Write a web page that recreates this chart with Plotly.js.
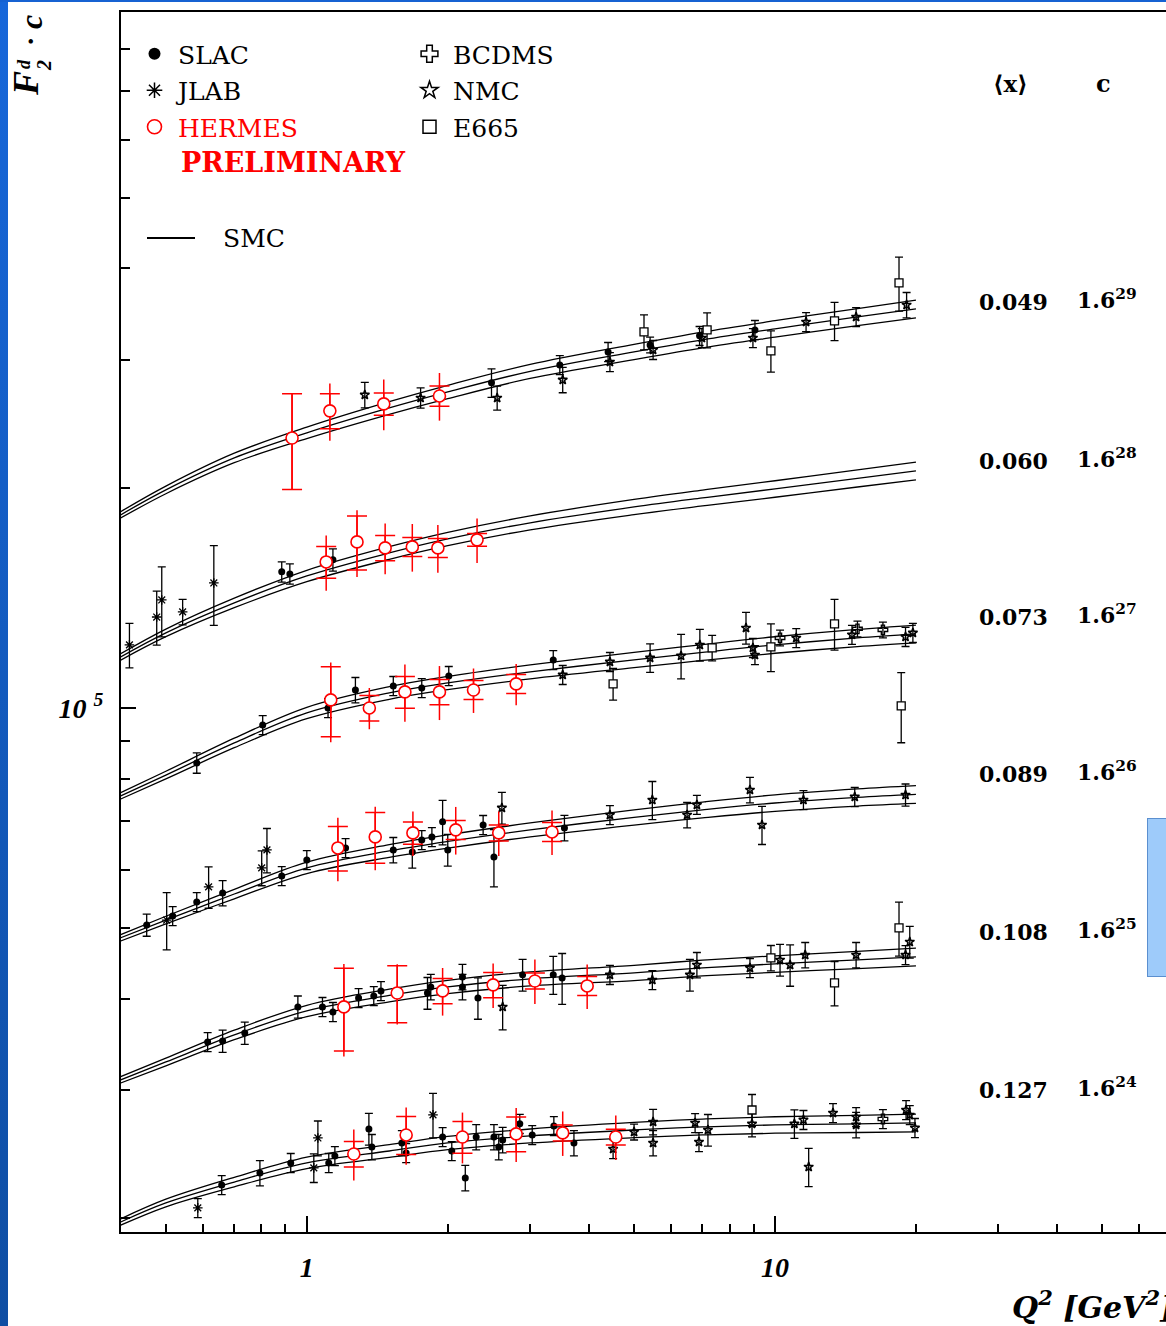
<!DOCTYPE html>
<html><head><meta charset="utf-8">
<script src="https://cdn.plot.ly/plotly-3.0.1.min.js"></script>
<style>
html,body{margin:0;padding:0;background:#fff;overflow:hidden;width:1166px;height:1326px;}
#chart{position:absolute;left:0;top:0;width:1166px;height:1326px;}
#leftband{position:absolute;left:0;top:0;width:8px;height:1326px;background:linear-gradient(#1767da,#0f4ea3);}
#topband{position:absolute;left:0;top:0;width:1166px;height:2px;background:#1662d2;}
#sidebox{position:absolute;left:1147px;top:818px;width:30px;height:157px;background:#9ecbfa;border:1px solid #5b8fcf;}
</style></head>
<body><div id="chart"></div><div id="leftband"></div><div id="topband"></div><div id="sidebox"></div>
<script>
// ---- bins ----
const binX = ['0.049','0.060','0.073','0.089','0.108','0.127'];
const binPower = [29, 28, 27, 26, 25, 24];
const cBase = 1.6;

// ---- SMC parametrisation (central curve per bin) ----
const smcQ2 = [0.4,0.5,0.7,1,1.5,2,3,5,7,10,15,20];
const smcBin0 = [.2213,.2395,.2649,.2867,.3101,.3262,.3481,.3701,.3844,.3980,.4132,.4239];
const smcBin1 = [.2262,.2441,.2683,.2921,.3141,.3283,.3454,.3631,.3736,.3844,.3974,.4068];
const smcBin2 = [.2335,.2494,.2760,.3034,.3232,.3335,.3454,.3586,.3672,.3760,.3844,.3893];
const smcBin3 = [.2388,.2526,.2742,.2978,.3141,.3237,.3357,.3492,.3575,.3654,.3719,.3754];
const smcBin4 = [.2441,.2583,.2813,.3034,.3186,.3273,.3357,.3421,.3475,.3519,.3564,.3598];
const smcBin5 = [.2494,.2649,.2830,.3006,.3121,.3201,.3273,.3335,.3367,.3389,.3400,.3410];
const smcBandPct = [1.0,1.2,1.5,1.8,2.0,2.1,2.2,2.4,2.5,2.6,2.7,2.8];

// ---- SLAC ----
const slacBin = [0,0,0,0,0,0, 1,1,1, 2,2,2,2,2,2,2,2,
  3,3,3,3,3,3,3,3,3,3,3,3,3,3,3,3,
  4,4,4,4,4,4,4,4,4,4,4,4,4,4,4,4,4,
  5,5,5,5,5,5,5,5,5,5,5,5,5,5,5,5,5,5,5,5];
const slacQ2 = [2.48,3.47,4.40,5.41,6.9,9.06, 0.884,0.92,1.137, 0.582,0.805,1.11,1.27,1.53,1.76,2.01,3.36,
  0.455,0.517,0.582,0.661,0.884,1.0,1.21,1.53,1.68,1.76,1.85,1.95,2.0,2.38,2.51,3.55,
  0.614,0.661,0.737,0.957,1.08,1.137,1.29,1.39,1.44,1.81,1.84,2.15,2.15,2.32,2.89,3.36,3.51,
  0.658,0.794,0.924,1.114,1.148,1.357,1.377,1.596,1.63,1.95,2.04,2.18,2.30,2.51,2.57,2.62,2.85,3.03,3.37,3.72];
const slacF2 = [.3357,.3552,.3701,.3783,.3893,.3967, .2959,.2940,.3073, .2591,.2921,.3082,.3262,.3304,.3283,.3410,.3586,
  .2487,.2558,.2674,.2751,.2903,.3053,.3171,.3151,.3131,.3252,.3283,.3443,.3151,.3410,.3082,.3378,
  .2751,.2759,.2830,.3073,.3073,.3025,.3161,.3181,.3232,.3211,.3273,.3378,.3273,.3161,.3400,.3400,.3367,
  .2804,.2912,.3006,.3006,.3073,.3346,.3161,.3201,.3102,.3262,.3121,.2867,.3262,.3262,.3161,.3232,.3400,.3283,.3378,.3201];
const slacErrPct = [4.5,3,3,2.5,3,3, 3.2,3.2,3.5, 3.2,3,3,4,3,3,3,3,
  3.5,3,3,4,3,3,3,4,5,3,3,7,5,3,9,4,
  3,3.5,3.5,3.5,3,3,3,3,3,5,4,4,4,6.5,5,6,8,
  3,4,3,3,3,5,4,4,3,3,3,4,4,4,4,4,3,3,3,4];

// ---- JLAB ----
const jlabBin = [1,1,1,1,1, 3,3,3,3, 5,5,5,5];
const jlabQ2 = [0.418,0.478,0.490,0.543,0.633, 0.502,0.617,0.801,0.822, 0.585,1.035,1.056,1.86];
const jlabF2 = [.2350,.2566,.2708,.2608,.2857, .2526,.2804,.2978,.3151, .2608,.2959,.3252,.3497];
const jlabErrPct = [7,8.5,11,4,12.5, 9,6.5,5.5,7, 3,4.5,5.5,7];

// ---- HERMES (preliminary) ----
const hermesBin = [0,0,0,0, 1,1,1,1,1,1, 2,2,2,2,2,2, 3,3,3,3,3,3, 4,4,4,4,4,4, 5,5,5,5,5,5];
const hermesQ2 = [0.93,1.12,1.46,1.92, 1.10,1.28,1.47,1.68,1.905,2.31, 1.125,1.36,1.62,1.92,2.27,2.80,
  1.165,1.40,1.685,2.08,2.57,3.34, 1.20,1.56,1.95,2.50,3.07,3.97, 1.26,1.63,2.15,2.80,3.52,4.57];
const hermesF2 = [.2821,.3073,.3141,.3221, .3053,.3252,.3191,.3201,.3191,.3273, .3161,.3082,.3242,.3242,.3262,.3325,
  .3171,.3283,.3325,.3357,.3325,.3335, .3073,.3211,.3232,.3294,.3335,.3283, .3092,.3283,.3262,.3294,.3304,.3262];
const hermesStatPct = [15,5.5,3.5,3.2, 5,8.5,4,3,3,2, 11,4,5,4,3,3, 7,8,3.5,3,2.5,3, 13,9,4,4,2.5,3, 4,6,5,5.5,2.5,2.5];
const hermesTotPct = [15,9,8,7.5, 8.7,10.5,8,7.5,7.5,7, 12.5,6.5,9,8.5,7,6.5, 10,10,7,7.5,7,7, 14.5,9.5,7.5,7,7,7, 8,9,8,8.5,7,7];

// ---- BCDMS ----
const bcdmsBin = [2,2,2,5];
const bcdmsQ2 = [10.25,15.0,17.0,17.0];
const bcdmsF2 = [.3844,.3955,.3942,.3453];
const bcdmsErrPct = [2.5,2.5,2.5,3];

// ---- NMC ----
const nmcBin = [0,0,0,0,0,0,0,0,0,0,0, 2,2,2,2,2,2,2,2,2,2,2,2, 3,3,3,3,3,3,3,3,3,3,
  4,4,4,4,4,4,4,4,4,4,4,4, 5,5,5,5,5,5,5,5,5,5,5,5,5,5,5,5,5];
const nmcQ2 = [1.33,1.75,2.55,3.52,4.44,5.49,6.98,8.97,11.65,14.9,19.1,
  3.52,4.44,5.41,6.3,6.91,8.67,8.97,9.06,11.1,14.6,19.0,19.7,
  2.61,4.44,5.47,6.49,6.81,8.84,9.38,11.5,14.8,19.0,
  2.62,4.44,5.47,6.58,6.81,8.84,10.25,10.77,11.6,14.9,19.0,19.4,
  4.51,5.0,5.49,5.49,6.75,6.88,7.19,8.93,11.0,11.5,11.8,13.3,14.9,14.9,19.05,19.4,19.9];
const nmcF2 = [.3232,.3201,.3201,.3389,.3586,.3725,.3868,.3868,.4068,.4132,.4292,
  .3421,.3564,.3610,.3633,.3760,.3967,.3725,.3643,.3844,.3883,.3857,.3906,
  .3598,.3519,.3689,.3519,.3633,.3808,.3410,.3689,.3725,.3748,
  .3073,.3400,.3346,.3400,.3508,.3475,.3564,.3508,.3620,.3620,.3620,.3772,
  .3141,.3314,.3421,.3201,.3410,.3211,.3335,.3400,.3400,.3443,.2968,.3519,.3475,.3389,.3552,.3497,.3357];
const nmcErrPct = [4,3.2,3.8,4,3,3,3,3,3,3,4,
  3,3,4.5,7,5,5,3,3,3,3,3,3,
  5,3,6,4,3,4,6,3,3,3.5,
  7,3,3,5,4,3,5,6.5,4,4,3,5,
  3,2.5,4,4,3,3,5,4,4.5,3,6,3,3,4,3,3,3];

// ---- E665 ----
const e665Bin = [0,0,0,0,0, 2,2,2,2,2, 4,4,4, 5];
const e665Q2 = [5.25,7.16,9.80,13.4,18.4, 4.51,7.34,9.80,13.4,18.6, 9.80,13.4,18.4, 8.93];
const e665F2 = [.3942,.3967,.3713,.4081,.4600, .3325,.3725,.3737,.4019,.3103, .3586,.3314,.3942, .3552];
const e665ErrPct = [5.5,5.5,6.5,6,8.5, 5,4,7.5,8,11, 4,7,8.5, 5];

// ---- helpers ----
const cOf = b => Math.pow(cBase, binPower[b]);
const scaled = (bins, f2) => f2.map((v,i) => v * cOf(bins[i]));
const errs = (bins, f2, pct) => f2.map((v,i) => v * cOf(bins[i]) * pct[i] / 100);
const PL = 121, PR = 1166, PT = 12, PB = 1232;
const px = x => (x - PL) / (PR - PL);
const py = y => (PB - y) / (PB - PT);

const traces = [];
// SMC curves
const smcAll = [smcBin0, smcBin1, smcBin2, smcBin3, smcBin4, smcBin5];
smcAll.forEach((cen, b) => {
  [-1, 0, 1].forEach(s => {
    traces.push({
      type: 'scatter', mode: 'lines', x: smcQ2,
      y: cen.map((v,i) => v * (1 + s * smcBandPct[i] / 100) * cOf(b)),
      line: {color: 'black', width: 1.3, shape: 'spline', smoothing: 1},
      showlegend: false, hoverinfo: 'skip'
    });
  });
});

function blackExp(bins, q2, f2, pct, marker) {
  return {
    type: 'scatter', mode: 'markers', x: q2, y: scaled(bins, f2),
    error_y: {type: 'data', array: errs(bins, f2, pct), color: 'black', thickness: 1.3, width: 4},
    marker: marker, showlegend: false
  };
}
traces.push(blackExp(nmcBin, nmcQ2, nmcF2, nmcErrPct, {symbol: 'star-open', size: 7, color: 'black', line: {width: 1.5, color: 'black'}}));
traces.push(blackExp(bcdmsBin, bcdmsQ2, bcdmsF2, bcdmsErrPct, {symbol: 'cross-open', size: 8, color: 'black', line: {width: 1.3, color: 'black'}}));
traces.push(blackExp(e665Bin, e665Q2, e665F2, e665ErrPct, {symbol: 'square', size: 8, color: 'white', line: {width: 1.3, color: 'black'}}));
traces.push(blackExp(jlabBin, jlabQ2, jlabF2, jlabErrPct, {symbol: 'asterisk-open', size: 8, color: 'black', line: {width: 1.3, color: 'black'}}));
traces.push(blackExp(slacBin, slacQ2, slacF2, slacErrPct, {symbol: 'circle', size: 7, color: 'black'}));
// HERMES: total error line, then statistical error with caps and marker
traces.push({
  type: 'scatter', mode: 'markers', x: hermesQ2, y: scaled(hermesBin, hermesF2),
  error_y: {type: 'data', array: errs(hermesBin, hermesF2, hermesTotPct), color: '#ff0000', thickness: 1.5, width: 0},
  marker: {size: 2, color: 'rgba(0,0,0,0)'}, showlegend: false, hoverinfo: 'skip'
});
traces.push({
  type: 'scatter', mode: 'markers', x: hermesQ2, y: scaled(hermesBin, hermesF2),
  error_y: {type: 'data', array: errs(hermesBin, hermesF2, hermesStatPct), color: '#ff0000', thickness: 1.5, width: 10},
  marker: {symbol: 'circle', size: 12, color: 'white', line: {width: 1.6, color: '#ff0000'}}, showlegend: false
});

// legend entries
function legEntry(name, legend, marker) {
  return {type: 'scatter', mode: 'markers', x: [null], y: [null], name: name, legend: legend, marker: marker, legendgroup: name};
}
traces.push(legEntry('SLAC', 'legend', {symbol: 'circle', size: 12, color: 'black'}));
traces.push(legEntry('JLAB', 'legend', {symbol: 'asterisk-open', size: 13, color: 'black', line: {width: 1.5, color: 'black'}}));
traces.push(legEntry('<span style="color:#ff0000">HERMES</span>', 'legend', {symbol: 'circle-open', size: 14, color: '#ff0000', line: {width: 1.6, color: '#ff0000'}}));
traces.push(legEntry('BCDMS', 'legend2', {symbol: 'cross-open', size: 14, color: 'black', line: {width: 1.5, color: 'black'}}));
traces.push(legEntry('NMC', 'legend2', {symbol: 'star-open', size: 13, color: 'black', line: {width: 1.5, color: 'black'}}));
traces.push(legEntry('E665', 'legend2', {symbol: 'square-open', size: 13, color: 'black', line: {width: 1.5, color: 'black'}}));

const serif = 'DejaVu Serif';
const legFont = {family: serif, size: 25, color: 'black'};
const ann = [];
const rowY = [302, 461, 617, 774, 932, 1090];
binX.forEach((bx, b) => {
  ann.push({xref: 'paper', yref: 'paper', x: px(1013), y: py(rowY[b]), xanchor: 'center', yanchor: 'middle',
    text: '<b>' + bx + '</b>', showarrow: false, font: {family: serif, size: 22, color: 'black'}});
  ann.push({xref: 'paper', yref: 'paper', x: px(1075), y: py(rowY[b] - 3), xanchor: 'left', yanchor: 'middle',
    text: '<b>' + cBase.toFixed(1) + '<sup>' + binPower[b] + '</sup></b>', showarrow: false, font: {family: serif, size: 22, color: 'black'}});
});
ann.push({xref: 'paper', yref: 'paper', x: px(1010), y: py(83), xanchor: 'center', yanchor: 'middle',
  text: '<b>⟨x⟩</b>', showarrow: false, font: {family: serif, size: 23, color: 'black'}});
ann.push({xref: 'paper', yref: 'paper', x: px(1103), y: py(83), xanchor: 'center', yanchor: 'middle',
  text: '<b>c</b>', showarrow: false, font: {family: serif, size: 24, color: 'black'}});
ann.push({xref: 'paper', yref: 'paper', x: px(179), y: py(162), xanchor: 'left', yanchor: 'middle',
  text: '<b>PRELIMINARY</b>', showarrow: false, font: {family: serif, size: 27, color: '#ff0000'}});
ann.push({xref: 'paper', yref: 'paper', x: px(221), y: py(238), xanchor: 'left', yanchor: 'middle',
  text: 'SMC', showarrow: false, font: legFont});
// axis titles
ann.push({xref: 'paper', yref: 'paper', x: px(1010), y: py(1305), xanchor: 'left', yanchor: 'middle',
  text: '<b><i>Q<sup>2</sup> [GeV<sup>2</sup>]</i></b>', showarrow: false, font: {family: serif, size: 30, color: 'black'}});
ann.push({xref: 'paper', yref: 'paper', x: px(26), y: py(84), xanchor: 'center', yanchor: 'middle', textangle: -90,
  text: '<b><i>F</i></b>', showarrow: false, font: {family: 'Liberation Serif', size: 36, color: 'black'}});
ann.push({xref: 'paper', yref: 'paper', x: px(24), y: py(64), xanchor: 'center', yanchor: 'middle', textangle: -90,
  text: '<b><i>d</i></b>', showarrow: false, font: {family: 'Liberation Serif', size: 18, color: 'black'}});
ann.push({xref: 'paper', yref: 'paper', x: px(44), y: py(66), xanchor: 'center', yanchor: 'middle', textangle: -90,
  text: '<b><i>2</i></b>', showarrow: false, font: {family: 'Liberation Serif', size: 20, color: 'black'}});
ann.push({xref: 'paper', yref: 'paper', x: px(30), y: py(42), xanchor: 'center', yanchor: 'middle', textangle: -90,
  text: '<b>·</b>', showarrow: false, font: {family: 'Liberation Serif', size: 28, color: 'black'}});
ann.push({xref: 'paper', yref: 'paper', x: px(31), y: py(22), xanchor: 'center', yanchor: 'middle', textangle: -90,
  text: '<b><i>c</i></b>', showarrow: false, font: {family: 'Liberation Serif', size: 32, color: 'black'}});

const shapes = [{type: 'line', xref: 'paper', yref: 'paper', x0: px(147), x1: px(195), y0: py(238), y1: py(238),
  line: {color: 'black', width: 2}}];

const tickFont = {family: 'Liberation Serif', size: 28, color: 'black', weight: 700, style: 'italic'};
const layout = {
  width: 1166, height: 1326, autosize: false,
  margin: {l: PL, r: 0, t: PT, b: 1326 - PB, pad: 0},
  paper_bgcolor: 'white', plot_bgcolor: 'white',
  xaxis: {type: 'log', range: [Math.log10(0.401), Math.log10(68.4)],
    showline: true, linecolor: 'black', linewidth: 2, mirror: true,
    showgrid: false, zeroline: false,
    ticks: 'inside', ticklen: 16, tickwidth: 2, tickcolor: 'black',
    tickmode: 'array', tickvals: [1, 10], ticktext: ['1', '10'], tickfont: tickFont, ticklabelstandoff: 9,
    minor: {tickmode: 'array', tickvals: [0.5,0.6,0.7,0.8,0.9,2,3,4,5,6,7,8,9,20,30,40,50,60],
      ticks: 'inside', ticklen: 8, tickwidth: 2, tickcolor: 'black', showgrid: false}},
  yaxis: {type: 'log', range: [4.2822, 5.9534],
    showline: true, linecolor: 'black', linewidth: 2, mirror: false,
    showgrid: false, zeroline: false,
    ticks: 'inside', ticklen: 15, tickwidth: 2, tickcolor: 'black',
    tickmode: 'array', tickvals: [1e5], ticktext: ['10 <sup>5</sup>'], tickfont: tickFont, ticklabelstandoff: 10,
    minor: {tickmode: 'array', tickvals: [2e4,3e4,4e4,5e4,6e4,7e4,8e4,9e4,2e5,3e5,4e5,5e5,6e5,7e5,8e5,9e5],
      ticks: 'inside', ticklen: 9, tickwidth: 2, tickcolor: 'black', showgrid: false}},
  legend: {x: px(131), y: py(31), xanchor: 'left', yanchor: 'top', font: legFont, bgcolor: 'rgba(0,0,0,0)',
    itemwidth: 37, traceorder: 'grouped', tracegroupgap: 1, borderwidth: 0},
  legend2: {x: px(406), y: py(31), xanchor: 'left', yanchor: 'top', font: legFont, bgcolor: 'rgba(0,0,0,0)',
    itemwidth: 37, traceorder: 'grouped', tracegroupgap: 1, borderwidth: 0},
  showlegend: true,
  annotations: ann, shapes: shapes
};
Plotly.newPlot('chart', traces, layout, {staticPlot: true, displayModeBar: false});
</script></body></html>
